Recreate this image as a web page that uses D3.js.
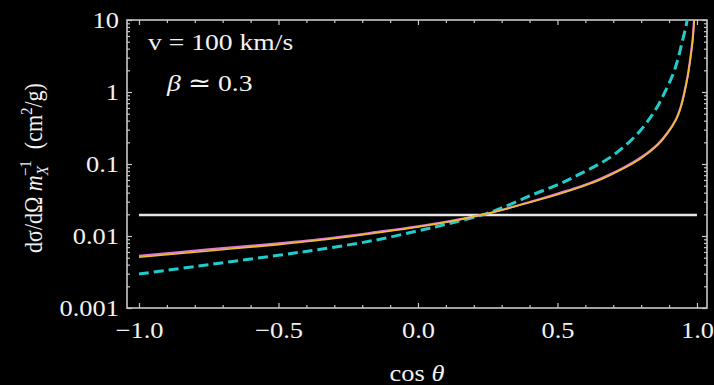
<!DOCTYPE html>
<html><head><meta charset="utf-8">
<script src="https://cdn.jsdelivr.net/npm/d3@7"></script>
<style>
html,body{margin:0;padding:0;background:#000;}
svg{display:block;}
text{font-family:"Liberation Serif","Times New Roman",serif;fill:#f2f2f2;}
</style></head><body>
<svg id="c" width="714" height="385"></svg>
<script>
// ---- data ----
const cosSolid = [-1,-0.75,-0.5,-0.32,-0.15,0,0.1,0.237,0.3,0.4,0.5125,0.584,0.656,0.728,0.8,0.86,0.895,0.925,0.943,0.955,0.967,0.976,0.985,0.990,0.995];
const yellowVals = [0.00506,0.0062,0.0076,0.0090,0.0110,0.0133,0.0155,0.0200,0.0228,0.0292,0.039,0.048,0.061,0.083,0.12,0.184,0.267,0.41,0.625,0.96,1.63,2.78,5.28,10,25];
const pinkVals   = [0.0053,0.0065,0.0079,0.0093,0.0113,0.0136,0.0157,0.0200,0.0230,0.0296,0.040,0.049,0.063,0.085,0.124,0.19,0.275,0.42,0.645,1.0,1.7,2.9,5.6,11,27];
const cosDashed = [-1,-0.75,-0.5,-0.32,-0.15,0,0.1,0.237,0.3,0.4,0.5125,0.572,0.632,0.692,0.752,0.799,0.835,0.865,0.889,0.913,0.931,0.945,0.961,0.968];
const cyanVals  = [0.00297,0.0040,0.0054,0.0068,0.0088,0.0118,0.0145,0.0200,0.0245,0.036,0.054,0.070,0.092,0.126,0.194,0.297,0.454,0.70,1.07,1.72,2.78,4.6,8.3,12];
const flatCos = [-1, 1];
const flatVal = 0.0196;
const xMajor = [-1,-0.5,0,0.5,1];
const xLabels = ["\u22121.0","\u22120.5","0.0","0.5","1.0"];
const xMinor = [-0.9,-0.8,-0.7,-0.6,-0.4,-0.3,-0.2,-0.1,0.1,0.2,0.3,0.4,0.6,0.7,0.8,0.9];
const yMajor = [0.001,0.01,0.1,1,10];
const yLabels = ["0.001","0.01","0.1","1","10"];
const yMinor = [];
[0.001,0.01,0.1,1].forEach(b=>{for(let k=2;k<=9;k++) yMinor.push(b*k);});

// ---- layout ----
const L=127,R=707,T=20,B=308;
const SX=1.15;
const svg=d3.select('#c');
svg.append('rect').attr('width',714).attr('height',385).attr('fill','#000');
const x=d3.scaleLinear().domain([-1.043,1.036]).range([L,R]);
const y=d3.scaleLog().domain([0.001,10]).range([B,T]);

svg.append('defs').append('clipPath').attr('id','clip')
  .append('rect').attr('x',L).attr('y',T).attr('width',R-L).attr('height',B-T);

function styleAxis(g){
  g.select('.domain').remove();
  g.selectAll('line').attr('stroke','#c8c8c8').attr('stroke-width',1.2);
}
const FF='"Liberation Serif","Times New Roman",serif';
// bottom
svg.append('g').attr('transform',`translate(0,${B})`)
  .call(d3.axisBottom(x).tickValues(xMajor).tickSize(-5).tickPadding(14).tickFormat((d,i)=>xLabels[i]))
  .call(styleAxis)
  .call(g=>g.selectAll('text').attr('font-size',23).attr('fill','#f2f2f2')
     .attr('font-family',FF).attr('transform',`scale(${SX},1)`));
svg.append('g').attr('transform',`translate(0,${B})`)
  .call(d3.axisBottom(x).tickValues(xMinor).tickSize(-3).tickFormat(''))
  .call(styleAxis);
// top
svg.append('g').attr('transform',`translate(0,${T})`)
  .call(d3.axisTop(x).tickValues(xMajor).tickSize(-5).tickFormat(''))
  .call(styleAxis);
svg.append('g').attr('transform',`translate(0,${T})`)
  .call(d3.axisTop(x).tickValues(xMinor).tickSize(-3).tickFormat(''))
  .call(styleAxis);
// left
svg.append('g').attr('transform',`translate(${L},0)`)
  .call(d3.axisLeft(y).tickValues(yMajor).tickSize(-5).tickPadding(8).tickFormat((d,i)=>yLabels[i]))
  .call(styleAxis)
  .call(g=>g.selectAll('text').attr('font-size',23).attr('fill','#f2f2f2')
     .attr('font-family',FF)
     .attr('x',-8/SX).attr('transform',`scale(${SX},1)`));
svg.append('g').attr('transform',`translate(${L},0)`)
  .call(d3.axisLeft(y).tickValues(yMinor).tickSize(-3).tickFormat(''))
  .call(styleAxis);
// right
svg.append('g').attr('transform',`translate(${R},0)`)
  .call(d3.axisRight(y).tickValues(yMajor).tickSize(-5).tickFormat(''))
  .call(styleAxis);
svg.append('g').attr('transform',`translate(${R},0)`)
  .call(d3.axisRight(y).tickValues(yMinor).tickSize(-3).tickFormat(''))
  .call(styleAxis);

// frame
svg.append('rect').attr('x',L).attr('y',T).attr('width',R-L).attr('height',B-T)
  .attr('fill','none').attr('stroke','#c8c8c8').attr('stroke-width',1.6);

// curves
const line=d3.line().x(d=>x(d[0])).y(d=>y(d[1])).curve(d3.curveCatmullRom.alpha(0.5));
const plot=svg.append('g').attr('clip-path','url(#clip)');
plot.append('path').attr('d',line(flatCos.map(c=>[c,flatVal])))
  .attr('fill','none').attr('stroke','#e6e6e6').attr('stroke-width',2.6);
plot.append('path').attr('d',line(cosDashed.map((c,i)=>[c,cyanVals[i]])))
  .attr('fill','none').attr('stroke','#22cccc').attr('stroke-width',3).attr('stroke-dasharray','10,5');
plot.append('path').attr('d',line(cosSolid.map((c,i)=>[c,pinkVals[i]])))
  .attr('fill','none').attr('stroke','#e07cd8').attr('stroke-width',2.2);
plot.append('path').attr('d',line(cosSolid.map((c,i)=>[c,yellowVals[i]])))
  .attr('fill','none').attr('stroke','#f0c020').attr('stroke-width',1.6);

// annotations
svg.append('text').attr('transform',`translate(148,50) scale(${SX},1)`).attr('font-size',24).text('v = 100 km/s');
const bt=svg.append('text').attr('transform',`translate(167,91) scale(${SX},1)`).attr('font-size',24);
bt.append('tspan').attr('font-style','italic').text('\u03b2');
bt.append('tspan').text(' \u2243 0.3');

// axis titles
const xt=svg.append('text').attr('transform',`translate(417,381) scale(${SX},1)`).attr('text-anchor','middle').attr('font-size',23);
xt.append('tspan').text('cos ');
xt.append('tspan').attr('font-style','italic').text('\u03b8');

const yt=svg.append('text').attr('transform',`translate(42,168) scale(${SX},1) rotate(-90)`).attr('text-anchor','middle').attr('font-size',22);
yt.append('tspan').text('d\u03c3/d\u03a9 ');
yt.append('tspan').attr('font-style','italic').text('m');
yt.append('tspan').attr('font-style','italic').attr('font-size',15).attr('dy',5).text('X');
yt.append('tspan').attr('font-size',15).attr('dx',-10).attr('dy',-15).text('\u22121');
yt.append('tspan').attr('dy',10).text('\u00a0\u00a0(cm');
yt.append('tspan').attr('font-size',15).attr('dy',-9).text('2');
yt.append('tspan').attr('dy',9).text('/g)');
</script>
</body></html>
